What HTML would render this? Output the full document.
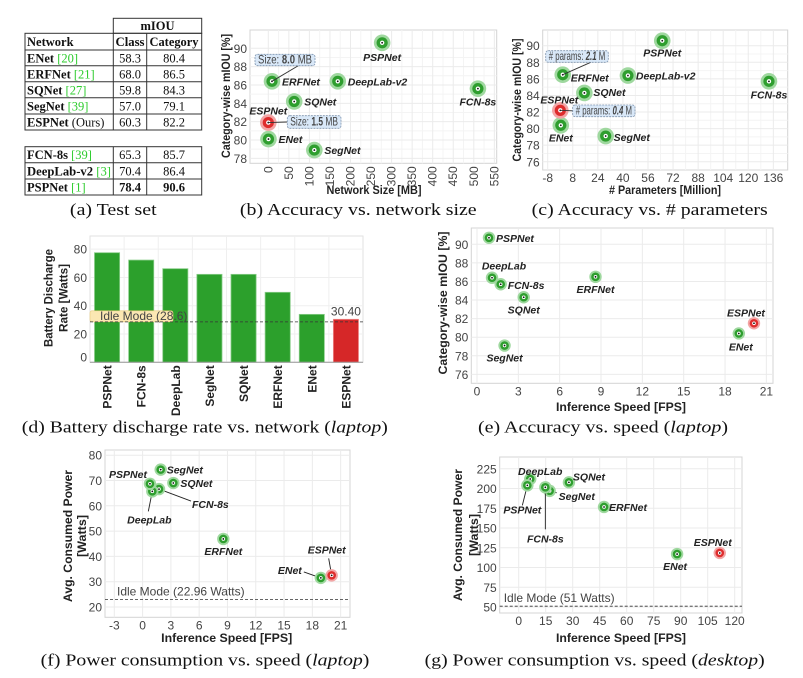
<!DOCTYPE html>
<html><head><meta charset="utf-8"><style>
html,body{margin:0;padding:0;background:#fff}
svg{display:block}
.tk{font-family:"Liberation Sans",sans-serif;font-size:12px;fill:#444}
.at{font-family:"Liberation Sans",sans-serif;font-size:12px;font-weight:bold;fill:#222}
.pl{font-family:"Liberation Sans",sans-serif;font-size:10.5px;font-weight:bold;font-style:italic;fill:#222}
.cap{font-family:"Liberation Serif",serif;font-size:17px;fill:#111}
.tb{font-family:"Liberation Serif",serif;font-size:12.5px;fill:#111}
</style></head><body>
<svg id="fig" xmlns="http://www.w3.org/2000/svg" width="803" height="678" viewBox="0 0 803 678">
<rect x="0" y="0" width="803" height="678" fill="#fff"/>
<g stroke="#333" stroke-width="1" fill="none">
  <rect x="113.3" y="18.3" width="88.4" height="15"/>
  <rect x="25" y="33.3" width="176.7" height="96.7"/>
  <line x1="25" y1="50" x2="201.7" y2="50"/><line x1="25" y1="65.7" x2="201.7" y2="65.7"/>
  <line x1="25" y1="81.7" x2="201.7" y2="81.7"/><line x1="25" y1="97.7" x2="201.7" y2="97.7"/>
  <line x1="25" y1="114" x2="201.7" y2="114"/>
  <line x1="113.3" y1="33.3" x2="113.3" y2="130"/><line x1="146.7" y1="33.3" x2="146.7" y2="130"/>
  <rect x="25" y="146.7" width="176.7" height="48.3"/>
  <line x1="25" y1="162.7" x2="201.7" y2="162.7"/><line x1="25" y1="179" x2="201.7" y2="179"/>
  <line x1="113.3" y1="146.7" x2="113.3" y2="195"/><line x1="146.7" y1="146.7" x2="146.7" y2="195"/>
</g>
<g>
<text class="tb" x="157.5" y="30" text-anchor="middle" font-weight="bold">mIOU</text>
<text class="tb" x="27" y="46" font-weight="bold">Network</text>
<text class="tb" x="130" y="46" text-anchor="middle" font-weight="bold" textLength="29" lengthAdjust="spacingAndGlyphs">Class</text>
<text class="tb" x="174" y="46" text-anchor="middle" font-weight="bold" textLength="49" lengthAdjust="spacingAndGlyphs">Category</text>
<text class="tb" x="27" y="62.5"><tspan font-weight="bold">ENet</tspan> <tspan fill="#2ecc2e">[20]</tspan></text>
<text class="tb" x="130" y="62.5" text-anchor="middle">58.3</text><text class="tb" x="174" y="62.5" text-anchor="middle">80.4</text>
<text class="tb" x="27" y="78.5"><tspan font-weight="bold">ERFNet</tspan> <tspan fill="#2ecc2e">[21]</tspan></text>
<text class="tb" x="130" y="78.5" text-anchor="middle">68.0</text><text class="tb" x="174" y="78.5" text-anchor="middle">86.5</text>
<text class="tb" x="27" y="94.5"><tspan font-weight="bold">SQNet</tspan> <tspan fill="#2ecc2e">[27]</tspan></text>
<text class="tb" x="130" y="94.5" text-anchor="middle">59.8</text><text class="tb" x="174" y="94.5" text-anchor="middle">84.3</text>
<text class="tb" x="27" y="110.5"><tspan font-weight="bold">SegNet</tspan> <tspan fill="#2ecc2e">[39]</tspan></text>
<text class="tb" x="130" y="110.5" text-anchor="middle">57.0</text><text class="tb" x="174" y="110.5" text-anchor="middle">79.1</text>
<text class="tb" x="27" y="126.5"><tspan font-weight="bold">ESPNet</tspan> (Ours)</text>
<text class="tb" x="130" y="126.5" text-anchor="middle">60.3</text><text class="tb" x="174" y="126.5" text-anchor="middle">82.2</text>
<text class="tb" x="27" y="159"><tspan font-weight="bold">FCN-8s</tspan> <tspan fill="#2ecc2e">[39]</tspan></text>
<text class="tb" x="130" y="159" text-anchor="middle">65.3</text><text class="tb" x="174" y="159" text-anchor="middle">85.7</text>
<text class="tb" x="27" y="175.5" textLength="84" lengthAdjust="spacingAndGlyphs"><tspan font-weight="bold">DeepLab-v2</tspan> <tspan fill="#2ecc2e">[3]</tspan></text>
<text class="tb" x="130" y="175.5" text-anchor="middle">70.4</text><text class="tb" x="174" y="175.5" text-anchor="middle">86.4</text>
<text class="tb" x="27" y="191.5"><tspan font-weight="bold">PSPNet</tspan> <tspan fill="#2ecc2e">[1]</tspan></text>
<text class="tb" x="130" y="191.5" text-anchor="middle" font-weight="bold">78.4</text><text class="tb" x="174" y="191.5" text-anchor="middle" font-weight="bold">90.6</text>
</g>
<text class="cap" x="113.3" y="215" text-anchor="middle" textLength="86.7" lengthAdjust="spacingAndGlyphs">(a) Test set</text>
<text class="cap" x="358.3" y="215" text-anchor="middle" textLength="236.7" lengthAdjust="spacingAndGlyphs">(b) Accuracy vs. network size</text>
<text class="cap" x="649.7" y="215" text-anchor="middle" textLength="236" lengthAdjust="spacingAndGlyphs">(c) Accuracy vs. # parameters</text>
<text class="cap" x="204.8" y="432.5" text-anchor="middle" textLength="366" lengthAdjust="spacingAndGlyphs">(d) Battery discharge rate vs. network (<tspan font-style="italic">laptop</tspan>)</text>
<text class="cap" x="603" y="432.5" text-anchor="middle" textLength="250" lengthAdjust="spacingAndGlyphs">(e) Accuracy vs. speed (<tspan font-style="italic">laptop</tspan>)</text>
<text class="cap" x="205" y="665.5" text-anchor="middle" textLength="328.7" lengthAdjust="spacingAndGlyphs">(f) Power consumption vs. speed (<tspan font-style="italic">laptop</tspan>)</text>
<text class="cap" x="594.7" y="665.5" text-anchor="middle" textLength="340" lengthAdjust="spacingAndGlyphs">(g) Power consumption vs. speed (<tspan font-style="italic">desktop</tspan>)</text>
</svg>
<script>
const netNames = ["ENet","ERFNet","SQNet","SegNet","ESPNet","FCN-8s","DeepLab-v2","PSPNet"];
const netNamesShort = ["ENet","ERFNet","SQNet","SegNet","ESPNet","FCN-8s","DeepLab","PSPNet"];
// (b)
const bSizeMB = [0.4, 9, 63, 112, 0, 510, 169, 277];
const bMiou = [80.1, 86.4, 84.2, 78.9, 81.9, 85.6, 86.4, 90.6];
const bXTicks = [0,50,100,150,200,250,300,350,400,450,500,550];
const bYTicks = [78,80,82,84,86,88,90];
// (c)
const cParamsM = [0.36, 1.6, 15.4, 29, 0.04, 133.2, 43.2, 65.1];
const cMiou = [80.4, 86.5, 84.3, 79.1, 82.2, 85.7, 86.4, 90.6];
const cXTicks = [-8,8,24,40,56,72,88,104,120,136];
const cYTicks = [76,78,80,82,84,86,88,90];
// (d)
const dNames = ["PSPNet","FCN-8s","DeepLab","SegNet","SQNet","ERFNet","ENet","ESPNet"];
const dPower = [77.5, 72.3, 66.2, 62.2, 62.2, 49.5, 33.9, 30.4];
const dIdle = 28.6;
const dYTicks = [0,20,40,60,80];
// (e)
const eFps = [19.0, 8.6, 3.39, 2.0, 20.1, 1.72, 1.09, 0.87];
const eMiou = [80.4, 86.5, 84.3, 79.1, 81.5, 85.7, 86.4, 90.7];
const eXTicks = [0,3,6,9,12,15,18,21];
const eYTicks = [76,78,80,82,84,86,88,90];
// (f)
const fFps = [18.9, 8.56, 3.26, 1.92, 20.05, 1.74, 1.03, 0.78];
const fPower = [31.5, 46.9, 69.0, 74.3, 32.5, 66.6, 65.7, 68.7];
const fIdle = 22.96;
const fXTicks = [-3,0,3,6,9,12,15,18,21];
const fYTicks = [20,30,40,50,60,70,80];
// (g)
const gFps = [88, 47.4, 27.9, 17.2, 111.7, 14.8, 6.4, 4.8];
const gPower = [117, 176.6, 207.8, 197, 118.4, 201.5, 212, 204];
const gIdle = 51;
const gXTicks = [0,15,30,45,60,75,90,105,120];
const gYTicks = [50,75,100,125,150,175,200,225];

const NS = "http://www.w3.org/2000/svg";
const svg = document.getElementById('fig');
function mk(tag, a, p){ const e=document.createElementNS(NS,tag); for(const k in a) e.setAttribute(k,a[k]); (p||svg).appendChild(e); return e; }

// label layouts: [dx, dy, anchor, leaderDx, leaderDy]
const bLayout = [[10,4,'start'],[10,4,'start'],[10,4,'start'],[10,4,'start'],[0,-8,'middle'],[0,17,'middle'],[10,4,'start'],[0,18,'middle']];
const cLayout = [[0,16,'middle'],[8,7,'start'],[9,3,'start'],[8,5,'start'],[-1,-7,'middle'],[0,17,'middle'],[8,4,'start'],[0,16,'middle']];
const eLayout = [[2,17,'middle'],[0,16,'middle'],[0,16,'middle'],[0,16,'middle'],[-8,-7,'middle'],[7,5,'start'],[12,-8,'middle'],[7,4,'start']];
const fLayout = [[-19,-4,'end',-17,-6],[0,16,'middle'],[7,4,'start'],[6,4,'start'],[-5,-22,'middle',-3,-17],[33,19,'start',32,12],[-3,32,'middle',-4,20],[-3,-6,'end']];
const gLayout = [[-2,16,'middle'],[5,4,'start'],[4,-2,'start'],[9,9,'start',7,2],[-7,-7,'middle'],[0,55,'middle',0,42],[10,-4,'middle'],[-5,28,'middle',-5,20]];

function panel(P){
  const g = mk('g',{});
  
  
  mk('rect',{x:P.l,y:P.t,width:P.r-P.l,height:P.b-P.t,fill:'#fff',stroke:'#d4d4d4','stroke-width':1},g);
  if(P.minor){
    for(let i=0;i<P.xt.length-1;i++){ const x=(P.sx(P.xt[i])+P.sx(P.xt[i+1]))/2; mk('line',{x1:x,x2:x,y1:P.t,y2:P.b,stroke:'#f4f4f4'},g); }
    for(let i=0;i<P.yt.length-1;i++){ const y=(P.sy(P.yt[i])+P.sy(P.yt[i+1]))/2; mk('line',{x1:P.l,x2:P.r,y1:y,y2:y,stroke:'#f4f4f4'},g); }
  }
  P.xt.forEach(v=>{ const x=P.sx(v);
    const gl=mk('line',{x1:x,x2:x,y1:P.t,y2:P.b,stroke:'#ebebeb'},g);
    
    let t;
    if(P.rotX){ t=mk('text',{class:'tk',x:x+4,y:P.b+3,'text-anchor':'end','font-size':'11px',transform:`rotate(-90 ${x+4} ${P.b+3})`},g); }
    else { t=mk('text',{class:'tk',x:x,y:P.b+12,'text-anchor':'middle'},g); }
    t.textContent=v;
    
  });
  P.yt.forEach(v=>{ const y=P.sy(v);
    const gl=mk('line',{x1:P.l,x2:P.r,y1:y,y2:y,stroke:'#ebebeb'},g);
    
    const t=mk('text',{class:'tk',x:P.l-3,y:y+4.5,'text-anchor':'end'},g);
    t.textContent=v;
    
  });
  const xt=mk('text',{class:'at',x:P.xtx,y:P.xty,'text-anchor':'middle',textLength:P.xtl,lengthAdjust:'spacingAndGlyphs'},g);
  xt.textContent=P.xTitle;
  
  P.yTitle.forEach((s,i)=>{
    const x=P.ytx[i], y=P.yty;
    const yt=mk('text',{class:'at',x:x,y:y,'text-anchor':'middle',transform:`rotate(-90 ${x} ${y})`,textLength:P.ytl[i],lengthAdjust:'spacingAndGlyphs'},g);
    yt.textContent=s;
    
  });
  if(P.idle!==undefined){
    const y=P.sy(P.idle);
    const il=mk('line',{x1:P.l,x2:P.r,y1:y,y2:y,stroke:'#333','stroke-dasharray':'3,2','stroke-width':0.8},g);
    
    const it=mk('text',{class:'tk',x:P.l+(P.idleDx||4),y:y-4,'font-size':'11.5px',fill:'#333'},g);
    it.textContent=P.idleText;
    
  }
  return g;
}
function marker(g,x,y,red,big){
  const R = big? 8.3:6.2, r2 = big?5.6:4.3, r3 = big?2.2:1.8;
  mk('circle',{cx:x,cy:y,r:R,fill:red?'#f3a5a5':'#9fd89f'},g);
  mk('circle',{cx:x,cy:y,r:r2,fill:red?'#de2d2d':'#2e9e2e'},g);
  mk('circle',{cx:x,cy:y,r:r3,fill:'#fff'},g);
  mk('circle',{cx:x,cy:y,r:0.9,fill:'#111'},g);
}
function scatter(P, xs, ys, names, layout, big){
  const g=panel(P);
  xs.forEach((xv,i)=>{
    const x=P.sx(xv), y=P.sy(ys[i]);
    const L=layout[i];
    if(L.length>3){
      const ln=mk('line',{x1:x,y1:y,x2:x+L[3],y2:y+L[4],stroke:'#222','stroke-width':0.9},g);
      
    }
    const pg=mk('g',{},g);
    
    
    marker(pg,x,y,names[i]==='ESPNet',big);
    const t=mk('text',{class:'pl',x:x+L[0],y:y+L[1],'text-anchor':L[2]},g);
    t.textContent=names[i];
    
  });
  return g;
}
function callout(g,x,y,w,h,pre,bold,post,tx,ty){
  const below = ty > y+h;
  const ln=mk('line',{x1:tx,y1:ty,x2:below? x+w*0.72 : x,y2:below? y+h : y+h/2,stroke:'#333','stroke-width':0.9},g);
  
  const r=mk('rect',{x:x,y:y,width:w,height:h,rx:2.5,fill:'#d9e8f8',stroke:'#7d93ad','stroke-width':0.8,'stroke-dasharray':'2,1'},g);
  
  const t=mk('text',{class:'tk',x:x+3,y:y+h/2+3.6,'font-size':'10px',fill:'#333',textLength:w-6,lengthAdjust:'spacingAndGlyphs'},g);
  t.innerHTML=pre+'<tspan font-weight="bold" font-style="'+(pre.indexOf('#')===0?'italic':'normal')+'">'+bold+'</tspan> '+post;
  
}

// (b)
const PB={name:'chart-b-size',l:250,r:496.7,t:30,b:163.3,sx:v=>268.3+v*0.411,sy:v=>48.3+(90-v)*9.17,xt:bXTicks,yt:bYTicks,minor:true,rotX:true,
  xTitle:'Network Size [MB]',xtx:374,xty:194,xtl:95,yTitle:['Category-wise mIOU [%]'],ytx:[230],yty:96,ytl:[124]};
const gb=scatter(PB,bSizeMB,bMiou,netNames,bLayout,true);
callout(gb,255,54.3,60,11.4,'Size: ','8.0','MB',PB.sx(bSizeMB[1]),PB.sy(bMiou[1]));
callout(gb,287.3,115.7,53.7,12.6,'Size: ','1.5','MB',PB.sx(bSizeMB[4]),PB.sy(bMiou[4]));
// (c)
const PC={name:'chart-c-params',l:542.7,r:787.7,t:30,b:170,sx:v=>547.7+(v+8)*1.567,sy:v=>45.7+(90-v)*8.29,xt:cXTicks,yt:cYTicks,minor:true,
  xTitle:'# Parameters [Million]',xtx:665,xty:194,xtl:112,yTitle:['Category-wise mIOU [%]'],ytx:[521],yty:100,ytl:[123]};
const gc=scatter(PC,cParamsM,cMiou,netNames,cLayout,true);
callout(gc,545.7,50.7,62.6,11.6,'# params: ','2.1','M',PC.sx(cParamsM[1]),PC.sy(cMiou[1]));
callout(gc,572.7,105,62.3,11.7,'# params: ','0.4','M',PC.sx(cParamsM[4]),PC.sy(cMiou[4]));
// (e)
const PE={name:'chart-e-accuracy-speed',l:471.3,r:773,t:228,b:383.3,sx:v=>477+v*13.78,sy:v=>244.3+(90-v)*9.29,xt:eXTicks,yt:eYTicks,
  xTitle:'Inference Speed [FPS]',xtx:621,xty:411,xtl:130,yTitle:['Category-wise mIOU [%]'],ytx:[447],yty:303,ytl:[143]};
scatter(PE,eFps,eMiou,netNamesShort,eLayout,false);
// (f)
const PF={name:'chart-f-power-laptop',l:105,r:350,t:450,b:617.3,sx:v=>142.6+v*9.43,sy:v=>607-(v-20)*2.53,xt:fXTicks,yt:fYTicks,
  xTitle:'Inference Speed [FPS]',xtx:226.7,xty:642,xtl:131,yTitle:['Avg. Consumed Power','[Watts]'],ytx:[72,86],yty:536,ytl:[132,42],
  idle:fIdle,idleText:'Idle Mode (22.96 Watts)',idleDx:12};
scatter(PF,fFps,fPower,netNamesShort,fLayout,false);
// (g)
const PG={name:'chart-g-power-desktop',l:499.7,r:742,t:457,b:613,sx:v=>518.7+v*1.8,sy:v=>607-(v-50)*0.79,xt:gXTicks,yt:gYTicks,
  xTitle:'Inference Speed [FPS]',xtx:621,xty:642,xtl:130,yTitle:['Avg. Consumed Power','[Watts]'],ytx:[462,478],yty:535,ytl:[132,42],
  idle:gIdle,idleText:'Idle Mode (51 Watts)',idleDx:4};
scatter(PG,gFps,gPower,netNamesShort,gLayout,false);

// (d) bar chart
(function(){
  const l=90,r=363,t=236,b=362.3;
  const sy=v=>b-v*1.414;
  const band=(r-l)/dNames.length;
  const g=mk('g',{});
  
  
  mk('rect',{x:l,y:t,width:r-l,height:b-t,fill:'#fff',stroke:'#e2e2e2'},g);
  for(let i=1;i<dNames.length;i++){ const x=l+i*band; mk('line',{x1:x,x2:x,y1:t,y2:b,stroke:'#efefef'},g); }
  dYTicks.forEach(v=>{ const y=sy(v);
    const gl=mk('line',{x1:l,x2:r,y1:y,y2:y,stroke:'#efefef'},g);
    
    const tt=mk('text',{class:'tk',x:l-3,y:Math.min(y+4.5,b-1),'text-anchor':'end','font-size':'12.5px'},g);
    tt.textContent=v;
    
  });
  dPower.forEach((v,i)=>{
    const x=l+i*band+4.5, w=band-9, red=dNames[i]==='ESPNet';
    const br=mk('rect',{x:x,y:sy(v),width:w,height:b-sy(v),fill:red?'#d62728':'#2ca02c',stroke:red?'#e88':'#8c8','stroke-width':0.8},g);
    
    
    const cx=l+(i+0.5)*band;
    const tl=mk('text',{class:'at',x:cx+4.5,y:b+3,'text-anchor':'end','font-size':'12px',transform:`rotate(-90 ${cx+4.5} ${b+3})`},g);
    tl.textContent=dNames[i];
    
    if(red){
      const vl=mk('text',{class:'tk',x:cx,y:sy(v)-4,'text-anchor':'middle','font-size':'12px',fill:'#333'},g);
      vl.textContent=v.toFixed(2);
      
    }
  });
  mk('line',{x1:l,x2:r,y1:b,y2:b,stroke:'#999'},g);
  const iy=sy(dIdle);
  const ib=mk('rect',{x:l,y:iy-11,width:83,height:11,rx:2,fill:'#fbe7b2',stroke:'#e8c97a','stroke-width':0.6},g);
  
  const il=mk('line',{x1:l,x2:r,y1:iy,y2:iy,stroke:'#333','stroke-dasharray':'3,2','stroke-width':0.8},g);
  
  const it=mk('text',{class:'tk',x:l+10,y:iy-2,'font-size':'11px',fill:'#333'},g);
  it.textContent='Idle Mode ('+dIdle+')';
  
  [['Battery Discharge',52.5,98],['Rate [Watts]',67.5,68]].forEach(a=>{
    const yt=mk('text',{class:'at',x:a[1],y:298,'text-anchor':'middle',transform:`rotate(-90 ${a[1]} 298)`,textLength:a[2],lengthAdjust:'spacingAndGlyphs'},g);
    yt.textContent=a[0];
    
  });
})();
</script>
</body></html>
